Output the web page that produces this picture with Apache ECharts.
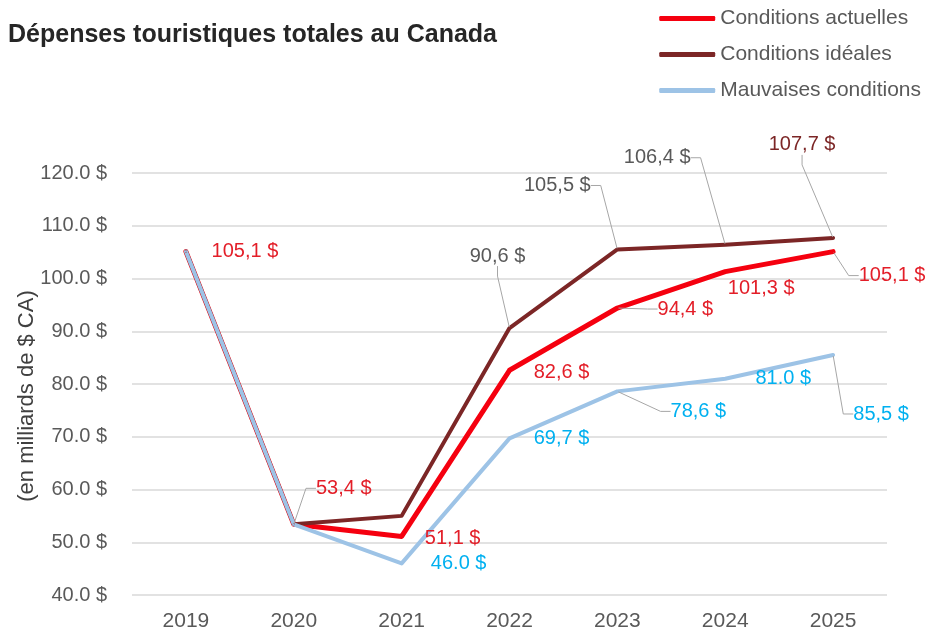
<!DOCTYPE html>
<html>
<head>
<meta charset="utf-8">
<title>Dépenses touristiques totales au Canada</title>
<script src="https://cdn.jsdelivr.net/npm/echarts@6/dist/echarts.min.js"></script>
<style>
	html, body { margin: 0; padding: 0; background: #fff; }
	#chart { width: 928px; height: 630px; }
</style>
</head>
<body>
<div id="chart"></div>
<script>
(function () {
	var years = ['2019', '2020', '2021', '2022', '2023', '2024', '2025'];
	var actuelles = [105.1, 53.4, 51.1, 82.6, 94.4, 101.3, 105.1];
	var ideales = [105.1, 53.4, 55.0, 90.6, 105.5, 106.4, 107.7];
	var mauvaises = [105.1, 53.4, 46.0, 69.7, 78.6, 81.0, 85.5];
	var yMin = 40, yMax = 120, yStep = 10;

	var FONT = '"Liberation Sans", Arial, sans-serif';
	var RED = '#f5000f', DARK = '#7c2626', BLUE = '#9dc3e6';
	var GRAY = '#595959';

	// label placement: [dx, dy, leader line, colour]
	var redLabels = [[59, 0], [50, -36, true], [51, 2], [52, 2], [68, 1, true], [36, 17], [59, 24, true]];
	var darkLabels = [null, null, null, [-12, -72, true, GRAY], [-60, -64, true, GRAY], [-68, -87, true, GRAY], [-31, -93, true]];
	var blueLabels = [null, null, [57, 0], [52, 0], [81, 20, true], [58, 0], [48, 59, true]];
	var allLabels = [redLabels, darkLabels, blueLabels];

	function fmt(v) {
		return (v % 1 === 0 ? v.toFixed(1) : String(v).replace('.', ',')) + ' $';
	}

	function buildData(values, specs, color) {
		return values.map(function (v, i) {
			var s = specs[i];
			if (!s) return { value: v, label: { show: false } };
			return {
				value: v,
				label: { show: true, color: s[3] || color },
				labelLine: { show: !!s[2] }
			};
		});
	}

	function lineSeries(name, values, specs, color, labelColor, width) {
		return {
			name: name,
			type: 'line',
			data: buildData(values, specs, labelColor),
			symbol: 'circle',
			symbolSize: 2,
			showSymbol: true,
			itemStyle: { color: color },
			lineStyle: { color: color, width: width, cap: 'round', join: 'round' },
			label: {
				position: 'inside',
				fontSize: 20,
				fontFamily: FONT,
				formatter: function (p) { return fmt(p.value); }
			},
			labelLayout: function (p) {
				var s = allLabels[p.seriesIndex][p.dataIndex];
				return s ? { dx: s[0], dy: s[1] } : {};
			},
			labelLine: {
				length2: 10,
				lineStyle: { color: '#a6a6a6', width: 1 }
			},
			emphasis: { disabled: true }
		};
	}

	var chart = echarts.init(document.getElementById('chart'));

	var option = {
		animation: false,
		title: {
			text: 'Dépenses touristiques totales au Canada',
			left: 3,
			top: 18,
			textStyle: { fontFamily: FONT, fontSize: 25, fontWeight: 'bold', color: '#262626' }
		},
		legend: {
			orient: 'vertical',
			right: 2,
			top: 3,
			itemWidth: 56,
			itemHeight: 5,
			itemGap: 15,
			icon: 'roundRect',
			textStyle: { fontFamily: FONT, fontSize: 21, color: GRAY },
			data: ['Conditions actuelles', 'Conditions idéales', 'Mauvaises conditions']
		},
		grid: { left: 132, right: 41, top: 173, bottom: 35, outerBoundsMode: 'none', containLabel: false },
		xAxis: {
			type: 'category',
			data: years,
			axisLine: { show: false },
			axisTick: { show: false },
			axisLabel: { fontFamily: FONT, fontSize: 21, color: GRAY, margin: 16 }
		},
		yAxis: {
			type: 'value',
			min: yMin,
			max: yMax,
			interval: yStep,
			name: '(en milliards de $ CA)',
			nameLocation: 'middle',
			nameRotate: 90,
			nameGap: 94,
			nameMoveOverlap: false,
			nameTextStyle: { fontFamily: FONT, fontSize: 22, color: '#404040', padding: [0, 24, 0, 0] },
			axisLine: { show: false },
			axisTick: { show: false },
			axisLabel: {
				fontFamily: FONT, fontSize: 20, color: GRAY, margin: 25,
				formatter: function (v) { return v.toFixed(1) + ' $'; }
			},
			splitLine: { lineStyle: { color: '#d9d9d9', width: 1.5 } }
		},
		series: [
			lineSeries('Conditions actuelles', actuelles, redLabels, RED, '#e31e28', 5),
			lineSeries('Conditions idéales', ideales, darkLabels, DARK, DARK, 4),
			lineSeries('Mauvaises conditions', mauvaises, blueLabels, BLUE, '#00b0f0', 4)
		]
	};

	chart.setOption(option);

	window.onresize = function () {
		chart.resize();
	};
})();
</script>
</body>
</html>
